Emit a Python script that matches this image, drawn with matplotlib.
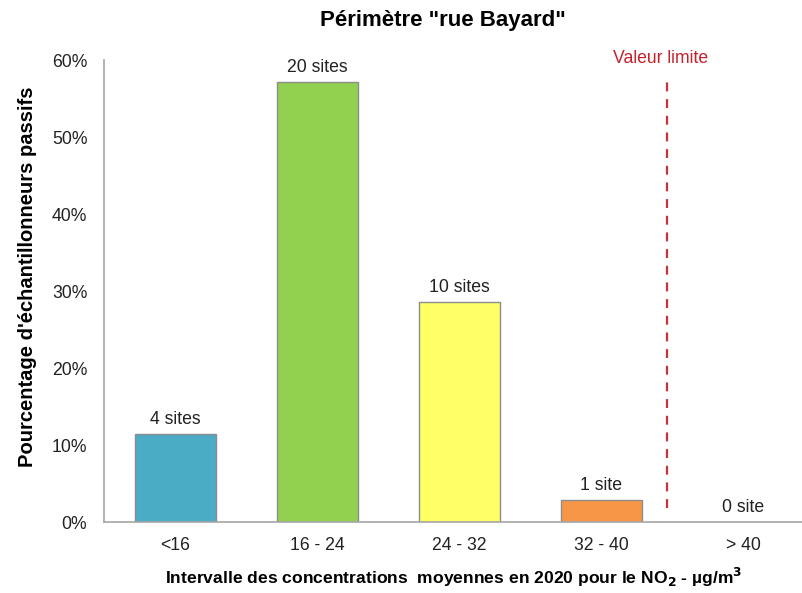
import matplotlib.pyplot as plt
from matplotlib.ticker import PercentFormatter

plt.rcParams['font.family'] = ['Liberation Sans', 'DejaVu Sans']

categories = ['<16', '16 - 24', '24 - 32', '32 - 40', '> 40']
sites = [4, 20, 10, 1, 0]
labels = ['4 sites', '20 sites', '10 sites', '1 site', '0 site']
colors = ['#4BACC6', '#92D050', '#FFFF66', '#F79646', '#FFFFFF']

total = sum(sites)
pourcentages = [s / total for s in sites]

fig = plt.figure(figsize=(8.03, 5.93), dpi=100)
ax = fig.add_axes([0.1295, 0.1197, 0.8705, 0.7791])

x = range(len(categories))
ax.bar(x, pourcentages, width=0.57, color=colors, edgecolor='#8C8C8C', linewidth=1)
for i, (p, lab) in enumerate(zip(pourcentages, labels)):
    ax.text(i, p + 0.008, lab, ha='center', va='bottom', fontsize=12.7, color='#222222')

# ligne de la valeur limite (40 µg/m3)
ax.plot([3.46, 3.46], [0.018, 0.574], color='#C8323A', linestyle=(0, (4, 3.5)), linewidth=1.6)
ax.text(3.42, 0.602, 'Valeur limite', ha='center', va='center', fontsize=12.7, color='#C8202A')

ax.set_xlim(-0.5, 4.42)
ax.set_ylim(0, 0.6)
ax.set_yticks([0, 0.1, 0.2, 0.3, 0.4, 0.5, 0.6])
ax.yaxis.set_major_formatter(PercentFormatter(1.0, decimals=0))
ax.set_xticks(list(x))
ax.set_xticklabels(categories)
ax.tick_params(axis='both', length=0, labelsize=12.7, colors='#222222')
ax.tick_params(axis='x', pad=11)
ax.tick_params(axis='y', pad=12)

for s in ['top', 'right']:
    ax.spines[s].set_visible(False)
for s in ['left', 'bottom']:
    ax.spines[s].set_color('#A6A6A6')
    ax.spines[s].set_linewidth(1.2)

ax.set_ylabel("Pourcentage d'échantillonneurs passifs", fontsize=14.5, fontweight='bold')
ax.yaxis.set_label_coords(-0.096, 0.53)
ax.set_xlabel(r'Intervalle des concentrations  moyennes en 2020 pour le NO$_\mathbf{2}$ - µg/m$^\mathbf{3}$',
              fontsize=12.6, fontweight='bold', labelpad=8)
fig.text(0.552, 0.966, 'Périmètre "rue Bayard"', ha='center', va='center', fontsize=16, fontweight='bold')

fig.savefig('out.png', dpi=100)
